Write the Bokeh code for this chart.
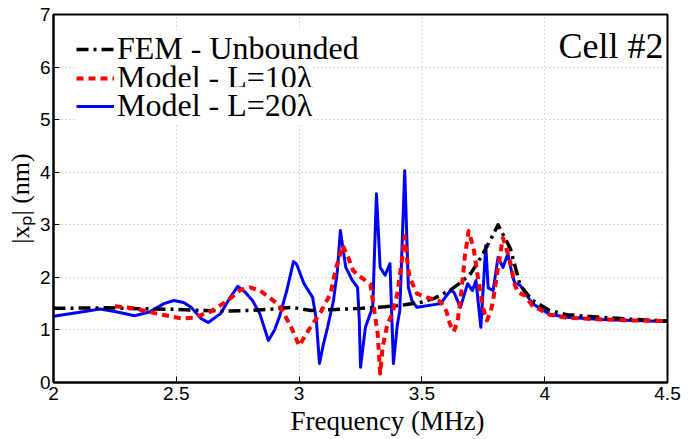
from bokeh.plotting import figure
from bokeh.models import Legend, LegendItem, Label, FixedTicker
from bokeh.embed import file_html
from bokeh.resources import INLINE

# ---- data ----
fem_f = [2.0, 2.2, 2.4, 2.5, 2.6, 2.7, 2.8, 2.9, 2.97, 3.05, 3.15, 3.25, 3.35, 3.43, 3.5,
         3.55, 3.58, 3.62, 3.66, 3.7, 3.74, 3.78, 3.81, 3.86, 3.9, 3.95, 4.02, 4.09, 4.23,
         4.36, 4.5]
fem_x = [1.41, 1.42, 1.40, 1.39, 1.37, 1.36, 1.37, 1.40, 1.43, 1.37, 1.39, 1.41, 1.44, 1.48, 1.53,
         1.60, 1.67, 1.77, 1.91, 2.08, 2.38, 2.72, 3.00, 2.55, 1.85, 1.56, 1.37, 1.29, 1.24,
         1.20, 1.17]

l10_f = [2.25, 2.33, 2.42, 2.52, 2.57, 2.64, 2.71, 2.76, 2.80, 2.84, 2.87, 2.92, 2.965, 3.0,
         3.046, 3.087, 3.128, 3.148, 3.177, 3.197, 3.22, 3.258, 3.29, 3.30, 3.32, 3.33, 3.34,
         3.36, 3.38, 3.40, 3.42, 3.43, 3.44, 3.45, 3.48, 3.52, 3.576, 3.60, 3.615, 3.63, 3.645,
         3.66, 3.675, 3.69, 3.71, 3.73, 3.75, 3.765, 3.78, 3.79, 3.81, 3.83, 3.85, 3.865, 3.875,
         3.89, 3.92, 3.95, 4.02, 4.09, 4.23, 4.36, 4.5]
l10_x = [1.45, 1.41, 1.31, 1.22, 1.23, 1.35, 1.56, 1.76, 1.81, 1.75, 1.65, 1.47, 1.08, 0.70,
         1.05, 1.33, 1.69, 2.13, 2.61, 2.42, 2.13, 1.98, 1.87, 1.56, 0.93, 0.17, 0.67,
         1.12, 1.31, 1.69, 2.38, 2.78, 2.32, 2.00, 1.69, 1.62, 1.54, 1.35, 1.10, 0.97, 1.15,
         1.70, 2.40, 2.88, 2.57, 1.94, 1.40, 1.18, 1.35, 1.56, 2.19, 2.75, 2.45, 2.20, 1.90,
         1.72, 1.65, 1.46, 1.29, 1.23, 1.20, 1.18, 1.17]

l20_f = [2.0, 2.1, 2.19, 2.26, 2.33, 2.39, 2.45, 2.49, 2.53, 2.56, 2.60, 2.63, 2.68, 2.72,
         2.75, 2.78, 2.81, 2.84, 2.875, 2.90, 2.92, 2.95, 2.977, 2.99, 3.02, 3.055, 3.07, 3.083,
         3.10, 3.116, 3.14, 3.156, 3.168, 3.19, 3.217, 3.238, 3.245, 3.25, 3.27, 3.29, 3.30,
         3.315, 3.33, 3.35, 3.37, 3.384, 3.40, 3.41, 3.43, 3.445, 3.46, 3.48, 3.576, 3.616,
         3.63, 3.657, 3.686, 3.706, 3.72, 3.74, 3.76, 3.77, 3.79, 3.81, 3.83, 3.85, 3.87, 3.88,
         3.90, 3.95, 4.02, 4.09, 4.23, 4.36, 4.5]
l20_x = [1.26, 1.33, 1.40, 1.34, 1.27, 1.34, 1.50, 1.56, 1.52, 1.43, 1.22, 1.14, 1.31, 1.62,
         1.83, 1.72, 1.56, 1.31, 0.80, 1.00, 1.25, 1.75, 2.30, 2.25, 1.88, 1.62, 1.20, 0.36,
         0.75, 1.05, 1.56, 2.13, 2.89, 2.19, 1.94, 1.81, 1.20, 0.29, 1.05, 1.31, 1.45,
         3.59, 2.19, 2.04, 2.26, 0.36, 1.10, 1.37, 4.03, 1.81, 1.55, 1.43, 1.50, 1.75,
         1.72, 1.43, 1.88, 1.75, 1.94, 1.05, 2.60, 1.80, 1.75, 2.38, 2.19, 2.45, 2.00, 1.88,
         1.85, 1.50, 1.30, 1.24, 1.20, 1.18, 1.16]

x_ticks = [2, 2.5, 3, 3.5, 4, 4.5]
x_tick_labels = ["2", "2.5", "3", "3.5", "4", "4.5"]
y_ticks = [0, 1, 2, 3, 4, 5, 6, 7]

series_names = ["FEM - Unbounded", "Model - L=10\u03bb", "Model - L=20\u03bb"]
x_title = "Frequency (MHz)"
y_title = "|x\u209a| (nm)"

SERIF = "Liberation Serif"
SANS = "Liberation Sans"

p = figure(width=698, height=439, x_range=(2, 4.5), y_range=(0, 7),
           output_backend="svg", toolbar_location=None,
           min_border_left=53, min_border_right=31, min_border_top=14, min_border_bottom=57)

p.background_fill_color = "white"
p.border_fill_color = "white"
p.outline_line_color = "black"
p.outline_line_width = 2

p.xaxis.ticker = FixedTicker(ticks=x_ticks)
p.xaxis.major_label_overrides = {t: l for t, l in zip(x_ticks, x_tick_labels)}
p.yaxis.ticker = FixedTicker(ticks=y_ticks)
for ax in (p.xaxis, p.yaxis):
    ax.major_tick_in = 6
    ax.major_tick_out = 0
    ax.minor_tick_line_color = None
    ax.axis_line_width = 2
    ax.axis_line_color = "black"
    ax.major_tick_line_color = "black"
    ax.major_label_text_font = SANS
    ax.major_label_text_font_size = "19px"
    ax.major_label_text_color = "black"
p.xaxis.major_label_standoff = 4
p.yaxis.major_label_standoff = 3

# x title: leading em spaces push the centred title right, as in the reference
p.xaxis.axis_label = "\u2003\u2003" + x_title
p.xaxis.axis_label_text_font = SERIF
p.xaxis.axis_label_text_font_size = "27px"
p.xaxis.axis_label_text_font_style = "normal"
p.xaxis.axis_label_standoff = 3
p.xaxis.axis_label_text_color = "black"

p.yaxis.axis_label = y_title
p.yaxis.axis_label_text_font = SERIF
p.yaxis.axis_label_text_font_size = "26px"
p.yaxis.axis_label_text_font_style = "normal"
p.yaxis.axis_label_standoff = 2
p.yaxis.axis_label_text_color = "black"

p.xgrid.grid_line_color = "#b4b4b4"
p.ygrid.grid_line_color = "#b4b4b4"
p.xgrid.grid_line_dash = "1 3"
p.ygrid.grid_line_dash = "1 3"
p.xgrid.ticker = FixedTicker(ticks=x_ticks)
p.ygrid.ticker = FixedTicker(ticks=y_ticks)

r20 = p.line(l20_f, l20_x, line_color="#0000ff", line_width=3, line_join="round")
rfem = p.line(fem_f, fem_x, line_color="black", line_width=3.5, line_dash="12 5 3 5",
              line_join="round")
r10 = p.line(l10_f, l10_x, line_color="#ff0000", line_width=4, line_dash="7 5",
             line_join="round")

# one single-item legend per row, so that rows can sit close together as in the reference
row_offsets = [315, 286, 258]  # distance (px) from frame bottom to each legend box bottom
for name, rend, off in zip(series_names, [rfem, r10, r20], row_offsets):
    lg = Legend(items=[LegendItem(label=name, renderers=[rend])], location=(23, off))
    lg.label_text_font = SERIF
    lg.label_text_font_size = "32px"
    lg.label_text_color = "black"
    lg.glyph_width = 38
    lg.label_standoff = 3
    lg.padding = 0
    lg.margin = 0
    lg.border_line_alpha = 0
    lg.background_fill_color = "white"
    lg.background_fill_alpha = 1
    p.add_layout(lg, "center")

p.add_layout(Label(x=4.484, y=6.41, text="Cell #2", text_align="right", text_baseline="middle",
                   text_font=SERIF, text_font_size="36px", text_color="black"))

open("out.html", "w").write(file_html(p, INLINE))
